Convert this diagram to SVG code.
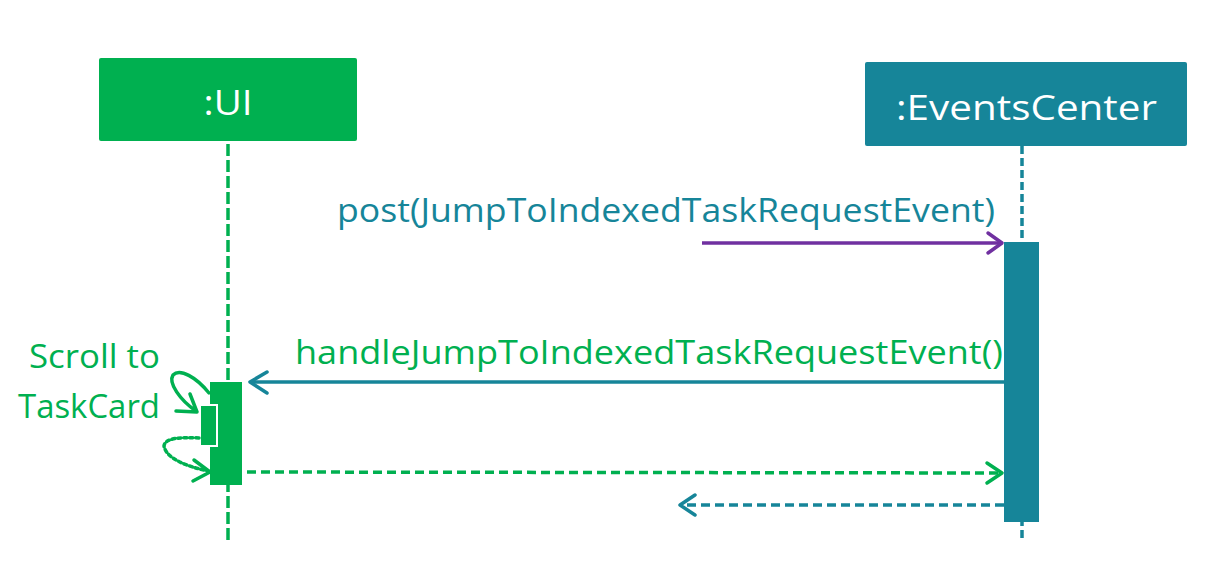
<svg xmlns="http://www.w3.org/2000/svg" width="1222" height="578" viewBox="0 0 1222 578">
<style>
text{font-family:"Open Sans","Liberation Sans",sans-serif}
.g{fill:#00B050}
.t{fill:#168599}
.w{fill:#FFFFFF}
.arr{fill:none;stroke-width:3.5;stroke-linecap:round;stroke-linejoin:round}
</style>
<rect width="1222" height="578" fill="#FFFFFF"/>
<g id="ui">
<rect x="99" y="58" width="258" height="83" rx="2" class="g"/>
<text x="228" y="115" font-size="34" text-anchor="middle" class="w" textLength="49" lengthAdjust="spacingAndGlyphs">:UI</text>
<line x1="228" y1="144" x2="228" y2="541" stroke="#00B050" stroke-width="3.5" stroke-dasharray="12 4"/>
<rect x="210" y="382" width="32" height="103" class="g"/>
<rect x="200" y="405" width="17" height="41" class="g" stroke="#FFFFFF" stroke-width="2"/>
<text x="29" y="368" font-size="33" class="g" textLength="131" lengthAdjust="spacingAndGlyphs">Scroll to</text>
<text x="18" y="418" font-size="33" class="g" textLength="142" lengthAdjust="spacingAndGlyphs">TaskCard</text>
</g>
<g id="eventscenter">
<rect x="865" y="62" width="322" height="84" rx="2" class="t"/>
<text x="896" y="120" font-size="34" class="w" textLength="261" lengthAdjust="spacingAndGlyphs">:EventsCenter</text>
<line x1="1022" y1="146" x2="1022" y2="541" stroke="#168599" stroke-width="3.5" stroke-dasharray="8 4"/>
<rect x="1004" y="242" width="35" height="280" class="t"/>
</g>
<g id="connectors">
<line x1="702" y1="243" x2="1001" y2="243" stroke="#7030A0" stroke-width="3.5"/>
<polyline points="988,233 1002,243 988,253" class="arr" stroke="#7030A0"/>
<text x="337" y="222" font-size="32" class="t" textLength="658" lengthAdjust="spacingAndGlyphs">post(JumpToIndexedTaskRequestEvent)</text>
<line x1="1004" y1="382" x2="250" y2="382" stroke="#168599" stroke-width="3.5"/>
<polyline points="267,372 250,382 267,393" class="arr" stroke="#168599"/>
<text x="295" y="364" font-size="32" class="g" textLength="708" lengthAdjust="spacingAndGlyphs">handleJumpToIndexedTaskRequestEvent()</text>
<path d="M209,393 C196,377 180,368 173,375 C168,383 180,400 196,411" class="arr" stroke="#00B050"/>
<polyline points="176,411 197,412 190,394" class="arr" stroke="#00B050"/>
<path d="M199,438 C180,437 165,438 164,446 C166,458 185,466 208,471" class="arr" stroke="#00B050" stroke-dasharray="3 3" stroke-linecap="butt"/>
<polyline points="194,460 210,472 193,481" class="arr" stroke="#00B050"/>
<line x1="247" y1="472" x2="1000" y2="473" stroke="#00B050" stroke-width="3.5" stroke-dasharray="9 5"/>
<polyline points="987,463 1002,473 987,483" class="arr" stroke="#00B050"/>
<line x1="1004" y1="505" x2="682" y2="505" stroke="#168599" stroke-width="3.5" stroke-dasharray="9 5"/>
<polyline points="695,495 680,505 695,515" class="arr" stroke="#168599"/>
</g>
</svg>
